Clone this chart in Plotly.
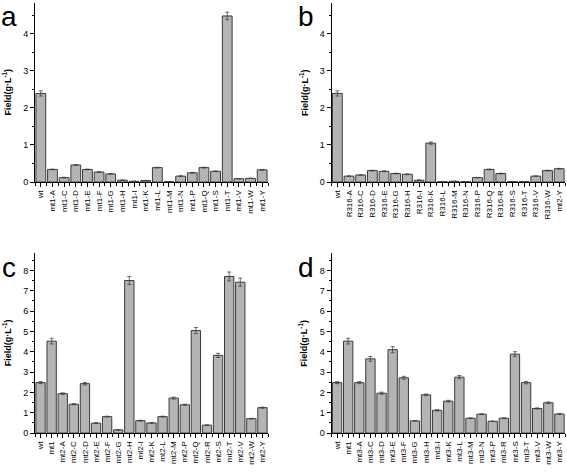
import plotly.graph_objects as go

# ---------------- data ----------------
cats_a = ["wt", "mt1-A", "mt1-C", "mt1-D", "mt1-E", "mt1-F", "mt1-G", "mt1-H", "mt1-I", "mt1-K",
          "mt1-L", "mt1-M", "mt1-N", "mt1-P", "mt1-Q", "mt1-S", "mt1-T", "mt1-V", "mt1-W", "mt1-Y"]
vals_a = [2.39, 0.34, 0.12, 0.46, 0.34, 0.27, 0.22, 0.05, 0.02, 0.04,
          0.39, 0.01, 0.16, 0.25, 0.39, 0.29, 4.48, 0.09, 0.10, 0.33]
err_a = [0.07, 0.01, 0.01, 0.01, 0.01, 0.01, 0.01, 0.005, 0.005, 0.005,
         0.01, 0.005, 0.01, 0.01, 0.01, 0.01, 0.10, 0.005, 0.005, 0.01]

cats_b = ["wt", "R316-A", "R316-C", "R316-D", "R316-E", "R316-G", "R316-H", "R316-I", "R316-K", "R316-L",
          "R316-M", "R316-N", "R316-P", "R316-Q", "R316-R", "R316-S", "R316-T", "R316-V", "R316-W", "mt2-Y"]
vals_b = [2.39, 0.16, 0.19, 0.31, 0.29, 0.23, 0.21, 0.05, 1.05, 0.01,
          0.02, 0.01, 0.12, 0.34, 0.23, 0.01, 0.01, 0.16, 0.31, 0.36]
err_b = [0.07, 0.005, 0.005, 0.01, 0.01, 0.01, 0.01, 0.005, 0.03, 0.003,
         0.003, 0.003, 0.005, 0.01, 0.01, 0.003, 0.003, 0.005, 0.01, 0.01]

cats_c = ["wt", "mt1", "mt2-A", "mt2-C", "mt2-D", "mt2-E", "mt2-F", "mt2-G", "mt2-H", "mt2-I", "mt2-K",
          "mt2-L", "mt2-M", "mt2-P", "mt2-Q", "mt2-R", "mt2-S", "mt2-T", "mt2-V", "mt2-W", "mt2-Y"]
vals_c = [2.48, 4.52, 1.94, 1.42, 2.43, 0.49, 0.81, 0.16, 7.50, 0.61, 0.50,
          0.81, 1.72, 1.39, 5.04, 0.39, 3.82, 7.70, 7.42, 0.71, 1.25]
err_c = [0.05, 0.14, 0.04, 0.03, 0.06, 0.02, 0.02, 0.01, 0.20, 0.02, 0.02,
         0.02, 0.05, 0.03, 0.15, 0.01, 0.10, 0.22, 0.20, 0.02, 0.03]

cats_d = ["wt", "mt1", "mt3-A", "mt3-C", "mt3-D", "mt3-E", "mt3-F", "mt3-G", "mt3-H", "mt3-I", "mt3-K",
          "mt3-L", "mt3-M", "mt3-N", "mt3-P", "mt3-R", "mt3-S", "mt3-T", "mt3-V", "mt3-W", "mt3-Y"]
vals_d = [2.48, 4.52, 2.48, 3.65, 1.96, 4.10, 2.72, 0.60, 1.88, 1.12, 1.57,
          2.75, 0.73, 0.93, 0.58, 0.73, 3.88, 2.48, 1.21, 1.49, 0.94]
err_d = [0.05, 0.14, 0.05, 0.12, 0.05, 0.15, 0.07, 0.01, 0.04, 0.03, 0.04,
         0.08, 0.02, 0.02, 0.01, 0.02, 0.12, 0.06, 0.03, 0.04, 0.02]

panel_letters = ["a", "b", "c", "d"]
ytick_top = [[0, 1, 2, 3, 4], [0, 1, 2, 3, 4, 5, 6, 7, 8]]

# ---------------- figure ----------------
W, H = 567, 474
FONT = "Arial, Liberation Sans, sans-serif"
BAR_FILL = "#b4b4b4"
BAR_LINE = "#3a3a3a"

panels = [
    (cats_a, vals_a, err_a),
    (cats_b, vals_b, err_b),
    (cats_c, vals_c, err_c),
    (cats_d, vals_d, err_d),
]

# pixel boxes (left, right, top, bottom) for each plot area
boxes = [
    (35, 268, 3, 184),
    (331.5, 565, 3, 184),
    (35, 268, 256, 437.7),
    (331.5, 565, 256, 437.7),
]
yranges = [[0, 4.83], [0, 4.83], [0, 8.84], [0, 8.84]]
ytickvals = [ytick_top[0], ytick_top[0], ytick_top[1], ytick_top[1]]

fig = go.Figure()
layout = dict(
    width=W, height=H,
    margin=dict(l=0, r=0, t=0, b=0),
    paper_bgcolor="white", plot_bgcolor="white",
    showlegend=False,
    font=dict(family=FONT, size=8, color="black"),
    annotations=[],
)

for i, (cats, vals, errs) in enumerate(panels):
    k = "" if i == 0 else str(i + 1)
    n = len(cats)
    idx = list(range(n))
    fig.add_trace(go.Bar(
        x=idx, y=vals,
        width=0.84,
        marker=dict(color=BAR_FILL, line=dict(color=BAR_LINE, width=1)),
        error_y=dict(type="data", array=errs, visible=True, color="#444444",
                     thickness=0.8, width=2),
        xaxis="x" + k, yaxis="y" + k,
    ))
    l, r, t, b = boxes[i]
    layout["xaxis" + k] = dict(
        domain=[l / W, r / W], anchor="y" + k,
        range=[-0.5, n - 0.5],
        tickmode="array", tickvals=idx, ticktext=cats,
        tickangle=-90, tickfont=dict(size=8, family=FONT),
        ticks="outside", ticklen=4, tickwidth=1, tickcolor="black",
        minor=dict(tick0=0.5, dtick=1, ticks="outside", ticklen=3, tickcolor="black", tickwidth=1),
        showline=True, linecolor="black", linewidth=1,
        showgrid=False, zeroline=False, fixedrange=True,
    )
    layout["yaxis" + k] = dict(
        domain=[1 - b / H, 1 - t / H], anchor="x" + k,
        range=yranges[i],
        tickmode="array", tickvals=ytickvals[i],
        tickfont=dict(size=9, family=FONT),
        ticks="outside", ticklen=4, tickwidth=1, tickcolor="black",
        minor=dict(tick0=0.5, dtick=1, ticks="outside", ticklen=2, tickcolor="black", tickwidth=1),
        showline=True, linecolor="black", linewidth=1,
        showgrid=False, zeroline=False, fixedrange=True,
    )
    # y axis title
    layout["annotations"].append(dict(
        text="<b>Field(g·L<sup>-1</sup>)</b>",
        x=(l - 28) / W, y=1 - ((t + b) / 2) / H,
        xref="paper", yref="paper", xanchor="center", yanchor="middle",
        textangle=-90, showarrow=False,
        font=dict(size=9, family=FONT, color="black"),
    ))
    # panel letter
    layout["annotations"].append(dict(
        text=panel_letters[i],
        x=(l - 26) / W, y=1 - (t + 14) / H,
        xref="paper", yref="paper", xanchor="center", yanchor="middle",
        showarrow=False,
        font=dict(size=28, family=FONT, color="black"),
    ))

fig.update_layout(**layout)
fig.write_html(
    "out.html",
    config={"displayModeBar": False, "staticPlot": True},
    post_script="document.body.style.margin='0';document.body.style.overflow='hidden';",
)
